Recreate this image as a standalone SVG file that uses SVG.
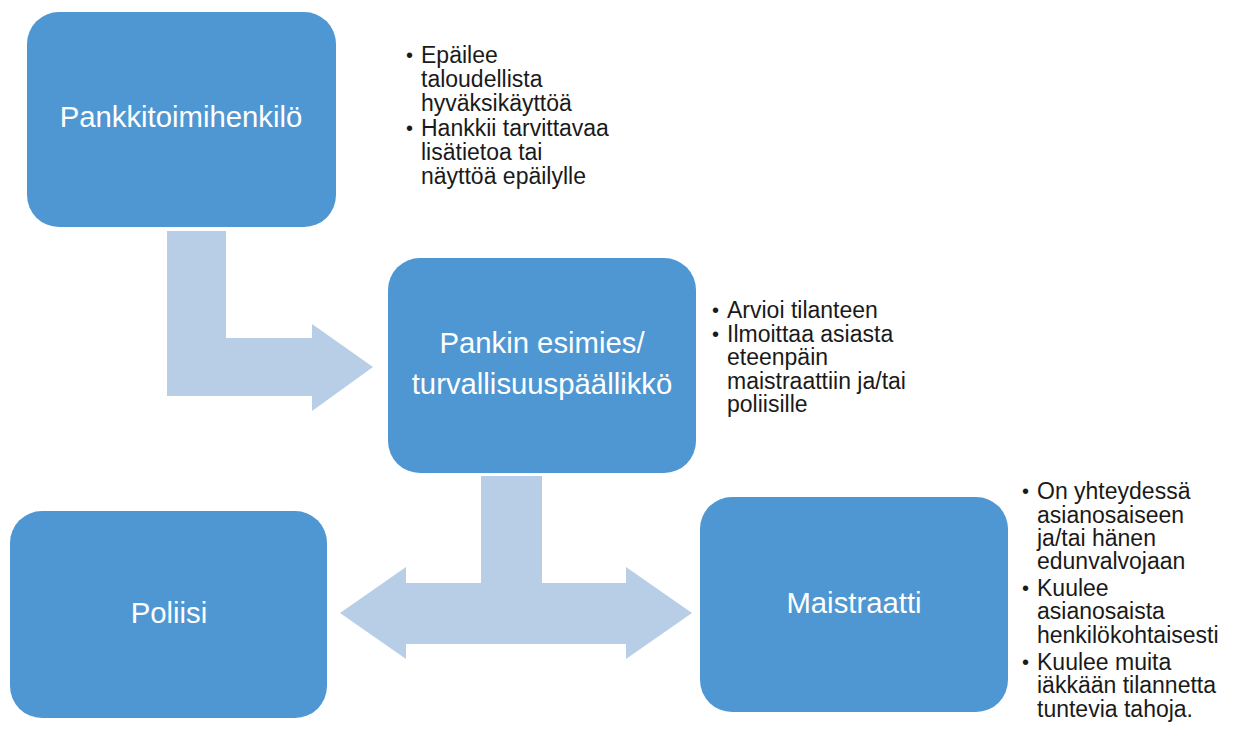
<svg xmlns="http://www.w3.org/2000/svg" width="1236" height="736" viewBox="0 0 1236 736">
<style>
.box{fill:#4F97D2;}
.lbl{font-family:"Liberation Sans",Arial,sans-serif;font-size:29.3px;fill:#ffffff;text-anchor:middle;}
.arr{fill:#B8CEE6;}
.bl{font-family:"Liberation Sans",Arial,sans-serif;font-size:23px;fill:#1a1a1a;}
.bu{font-family:"Liberation Sans",Arial,sans-serif;font-size:20px;fill:#1a1a1a;}
</style>
<rect width="1236" height="736" fill="#ffffff"/>
<g id="connectors">
<path class="arr" d="M167,231 H226 V338 H312 V324 L373,367 L312,411 V396 H167 Z"/>
<path class="arr" d="M481,476 H542 V583 H626 V567 L692,613 L626,659 V644 H406 V659 L340,613 L406,567 V583 H481 Z"/>
</g>
<g id="node-pankkitoimihenkilo">
<rect class="box" x="27" y="12" width="309" height="215" rx="32"/>
<text class="lbl" x="181" y="127">Pankkitoimihenkilö</text>
</g>
<g id="notes-1" class="bl">
<text class="bu" x="406" y="62">•</text>
<text x="421" y="63">Epäilee</text>
<text x="421" y="87">taloudellista</text>
<text x="421" y="111">hyväksikäyttöä</text>
<text class="bu" x="406" y="135">•</text>
<text x="421" y="136">Hankkii tarvittavaa</text>
<text x="421" y="160">lisätietoa tai</text>
<text x="421" y="184">näyttöä epäilylle</text>
</g>
<g id="node-esimies">
<rect class="box" x="388" y="258" width="308" height="215" rx="32"/>
<text class="lbl" x="542" y="353">Pankin esimies/</text>
<text class="lbl" x="542" y="394">turvallisuuspäällikkö</text>
</g>
<g id="notes-2" class="bl">
<text class="bu" x="712" y="317">•</text>
<text x="727" y="318">Arvioi tilanteen</text>
<text class="bu" x="712" y="341">•</text>
<text x="727" y="342">Ilmoittaa asiasta</text>
<text x="727" y="365">eteenpäin</text>
<text x="727" y="389">maistraattiin ja/tai</text>
<text x="727" y="412">poliisille</text>
</g>
<g id="node-poliisi">
<rect class="box" x="10" y="511" width="317" height="207" rx="32"/>
<text class="lbl" x="169" y="623">Poliisi</text>
</g>
<g id="node-maistraatti">
<rect class="box" x="700" y="497" width="308" height="215" rx="32"/>
<text class="lbl" x="854" y="613">Maistraatti</text>
</g>
<g id="notes-3" class="bl">
<text class="bu" x="1022" y="498">•</text>
<text x="1037" y="499">On yhteydessä</text>
<text x="1037" y="523">asianosaiseen</text>
<text x="1037" y="546">ja/tai hänen</text>
<text x="1037" y="569">edunvalvojaan</text>
<text class="bu" x="1022" y="595">•</text>
<text x="1037" y="596">Kuulee</text>
<text x="1037" y="619">asianosaista</text>
<text x="1037" y="643">henkilökohtaisesti</text>
<text class="bu" x="1022" y="669">•</text>
<text x="1037" y="670">Kuulee muita</text>
<text x="1037" y="693">iäkkään tilannetta</text>
<text x="1037" y="717">tuntevia tahoja.</text>
</g>
</svg>
